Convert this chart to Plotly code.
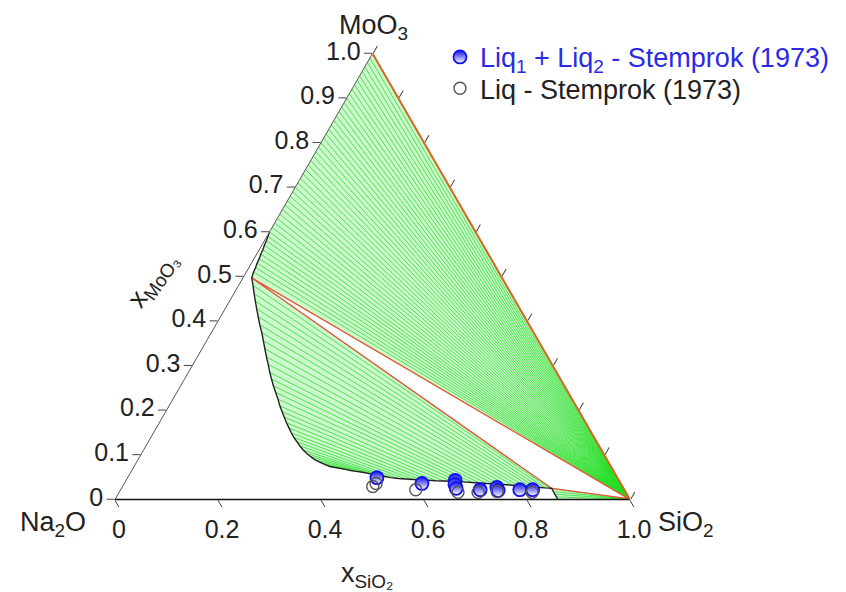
import plotly.graph_objects as go

FONT = "Liberation Sans, Arial, Helvetica, sans-serif"

# ---------------- data (mole fractions) ----------------
# Upper Liq1+Liq2 fan: Liq2 compositions on the Na2O-MoO3 side
upper_liq2_moo3 = [1.00, 0.99, 0.98, 0.97, 0.96, 0.95, 0.94, 0.93, 0.92, 0.91,
                   0.90, 0.89, 0.88, 0.87, 0.86, 0.85, 0.84, 0.83, 0.82, 0.81,
                   0.80, 0.79, 0.78, 0.77, 0.76, 0.75, 0.74, 0.73, 0.72, 0.71,
                   0.70, 0.69, 0.68, 0.67, 0.66, 0.65, 0.64, 0.63, 0.62, 0.61,
                   0.60, 0.59, 0.58, 0.57, 0.56, 0.55, 0.54, 0.53, 0.52, 0.51, 0.497]
upper_liq2_sio2 = [0.0] * 41 + [0.002, 0.004, 0.005, 0.007, 0.008,
                                0.010, 0.011, 0.013, 0.014, 0.017]
# Liq1 (silica-rich) end of the upper fan
upper_liq1_moo3 = 0.002
upper_liq1_sio2 = 0.996

# Lower Liq1+Liq2 region: tie-line end points
lower_liq2_moo3 = [0.497, 0.480, 0.462, 0.445, 0.428, 0.410, 0.392, 0.374, 0.356, 0.338,
                   0.320, 0.303, 0.285, 0.270, 0.255, 0.240, 0.225, 0.210, 0.197, 0.185,
                   0.172, 0.160, 0.149, 0.139, 0.129, 0.120, 0.111, 0.103, 0.096, 0.089,
                   0.083, 0.078, 0.074]
lower_liq2_sio2 = [0.017, 0.028, 0.039, 0.050, 0.061, 0.073, 0.085, 0.098, 0.110, 0.122,
                   0.134, 0.146, 0.158, 0.169, 0.180, 0.192, 0.204, 0.215, 0.226, 0.236,
                   0.247, 0.258, 0.268, 0.278, 0.289, 0.299, 0.310, 0.321, 0.332, 0.344,
                   0.357, 0.369, 0.380]
lower_liq1_moo3 = [0.0247, 0.0255, 0.026, 0.027, 0.028, 0.029, 0.030, 0.031, 0.032, 0.033,
                   0.034, 0.035, 0.036, 0.037, 0.038, 0.039, 0.040, 0.041, 0.0415, 0.042,
                   0.043, 0.044, 0.045, 0.046, 0.047, 0.049, 0.052, 0.055, 0.058, 0.061,
                   0.063, 0.065, 0.067]
lower_liq1_sio2 = [0.836, 0.830, 0.822, 0.812, 0.802, 0.792, 0.780, 0.768, 0.756, 0.743,
                   0.730, 0.717, 0.703, 0.689, 0.675, 0.661, 0.647, 0.632, 0.617, 0.602,
                   0.587, 0.572, 0.557, 0.542, 0.527, 0.511, 0.495, 0.480, 0.465, 0.450,
                   0.437, 0.425, 0.417]

# Liq1 + SiO2 sliver: liquidus points tied to the SiO2 corner
sliver_moo3 = [0.0247, 0.018, 0.012, 0.006, 0.0]
sliver_sio2 = [0.836, 0.842, 0.848, 0.854, 0.860]

# Stemprok (1973) experimental points
exp2_moo3 = [0.049, 0.036, 0.043, 0.034, 0.025, 0.022, 0.027, 0.020, 0.022, 0.022]
exp2_sio2 = [0.484, 0.578, 0.639, 0.643, 0.650, 0.698, 0.728, 0.734, 0.775, 0.800]
exp1_moo3 = [0.029, 0.036, 0.022, 0.016, 0.016, 0.016, 0.018]
exp1_sio2 = [0.486, 0.489, 0.573, 0.658, 0.697, 0.802, 0.733]

tick_a = [0, 0.1, 0.2, 0.3, 0.4, 0.5, 0.6, 0.7, 0.8, 0.9, 1.0]
tick_a_text = ["0", "0.1", "0.2", "0.3", "0.4", "0.5", "0.6", "0.7", "0.8", "0.9", "1.0"]
tick_b = [0, 0.2, 0.4, 0.6, 0.8, 1.0]
tick_b_text = ["1.0", "0.8", "0.6", "0.4", "0.2", "0"]


def abc(m, s):
    return m, 1 - m - s, s


def nb(ms, ss):
    return [1 - x - y for x, y in zip(ms, ss)]


GREEN = "rgb(35,222,35)"
FILLG = "rgb(205,247,205)"
RED = "#e8553a"

fig = go.Figure()

# region fills
ua = upper_liq2_moo3 + [upper_liq1_moo3]
us = upper_liq2_sio2 + [upper_liq1_sio2]
fig.add_trace(go.Scatterternary(a=ua, b=nb(ua, us), c=us, mode="lines", fill="toself",
                                fillcolor=FILLG, line=dict(width=0),
                                hoverinfo="skip", showlegend=False))
la = lower_liq2_moo3 + lower_liq1_moo3[::-1]
ls = lower_liq2_sio2 + lower_liq1_sio2[::-1]
fig.add_trace(go.Scatterternary(a=la, b=nb(la, ls), c=ls, mode="lines", fill="toself",
                                fillcolor=FILLG, line=dict(width=0),
                                hoverinfo="skip", showlegend=False))
sa = sliver_moo3 + [0.0]
ss = sliver_sio2 + [1.0]
fig.add_trace(go.Scatterternary(a=sa, b=nb(sa, ss), c=ss, mode="lines", fill="toself",
                                fillcolor=FILLG, line=dict(width=0),
                                hoverinfo="skip", showlegend=False))

# tie lines
A, B, C = [], [], []


def add_tie(m1, s1, m2, s2):
    for mm, sv in ((m1, s1), (m2, s2)):
        a, b, c = abc(mm, sv)
        A.append(a); B.append(b); C.append(c)
    A.append(None); B.append(None); C.append(None)


for m, s in zip(upper_liq2_moo3, upper_liq2_sio2):
    add_tie(m, s, upper_liq1_moo3, upper_liq1_sio2)
for m2, s2, m1, s1 in zip(lower_liq2_moo3, lower_liq2_sio2, lower_liq1_moo3, lower_liq1_sio2):
    add_tie(m2, s2, m1, s1)
for m, s in zip(sliver_moo3, sliver_sio2):
    add_tie(m, s, 0.0, 1.0)
fig.add_trace(go.Scatterternary(a=A, b=B, c=C, mode="lines",
                                line=dict(color=GREEN, width=0.75),
                                hoverinfo="skip", showlegend=False))

# three-phase triangle (red)
tp_m = [lower_liq2_moo3[0], lower_liq1_moo3[0], upper_liq1_moo3, lower_liq2_moo3[0]]
tp_s = [lower_liq2_sio2[0], lower_liq1_sio2[0], upper_liq1_sio2, lower_liq2_sio2[0]]
fig.add_trace(go.Scatterternary(a=tp_m, b=nb(tp_m, tp_s), c=tp_s, mode="lines",
                                line=dict(color=RED, width=1.3),
                                hoverinfo="skip", showlegend=False))

# liquidus boundary (black)
bm = upper_liq2_moo3[40:] + lower_liq2_moo3[1:] + lower_liq1_moo3[::-1] + sliver_moo3[1:]
bs = upper_liq2_sio2[40:] + lower_liq2_sio2[1:] + lower_liq1_sio2[::-1] + sliver_sio2[1:]
fig.add_trace(go.Scatterternary(a=bm, b=nb(bm, bs), c=bs, mode="lines",
                                line=dict(color="#222", width=1.4),
                                hoverinfo="skip", showlegend=False))

# experimental points
fig.add_trace(go.Scatterternary(
    a=exp2_moo3, b=nb(exp2_moo3, exp2_sio2), c=exp2_sio2, mode="markers",
    name="<span style='color:#2a2ae6'>Liq<sub>1</sub> + Liq<sub>2</sub> - Stemprok (1973)</span>",
    legend="legend",
    marker=dict(symbol="circle", size=13, color="#1010ee",
                gradient=dict(type="vertical", color="white"),
                line=dict(color="#1010ee", width=1.8))))
fig.add_trace(go.Scatterternary(
    a=exp1_moo3, b=nb(exp1_moo3, exp1_sio2), c=exp1_sio2, mode="markers",
    name="Liq - Stemprok (1973)", legend="legend2",
    marker=dict(symbol="circle-open", size=12, color="#555", line=dict(width=1.4))))

axis_common = dict(showgrid=False, ticks="outside", ticklen=8, tickcolor="#444",
                   tickwidth=1, tickfont=dict(family=FONT, size=25, color="#222"),
                   title=dict(text=""), layer="above traces")

leg_common = dict(xanchor="left", yanchor="top",
                  font=dict(family=FONT, size=27, color="#222"),
                  bgcolor="rgba(0,0,0,0)", itemwidth=30)


def ann(text, x, y, angle=0):
    return dict(text=text, x=x, y=y, xref="paper", yref="paper", xanchor="center",
                yanchor="middle", showarrow=False, textangle=angle,
                font=dict(family=FONT, size=27, color="#222"))


fig.update_layout(
    width=846, height=592,
    margin=dict(l=115, r=216, t=53, b=92, autoexpand=False),
    paper_bgcolor="white",
    font=dict(family=FONT, color="#222"),
    ternary=dict(
        sum=1, bgcolor="white",
        aaxis=dict(tickmode="array", tickvals=tick_a, ticktext=tick_a_text,
                   linecolor="#555", linewidth=1, **axis_common),
        baxis=dict(tickmode="array", tickvals=tick_b, ticktext=tick_b_text,
                   linecolor="#111", linewidth=1.5, **axis_common),
        caxis=dict(tickmode="array", tickvals=tick_a, showticklabels=False,
                   linecolor="#d2691e", linewidth=2, **axis_common),
    ),
    legend=dict(x=0.631, y=1.045, **leg_common),
    legend2=dict(x=0.631, y=0.975, **leg_common),
    annotations=[
        ann("MoO<sub>3</sub>", 0.502, 1.059),
        ann("Na<sub>2</sub>O", -0.121, -0.054),
        ann("SiO<sub>2</sub>", 1.108, -0.054),
        ann("x<sub>MoO₃</sub>", 0.074, 0.492, -55),
        ann("x<sub>SiO₂</sub>", 0.49, -0.168),
    ],
)

fig.write_html("out.html")
